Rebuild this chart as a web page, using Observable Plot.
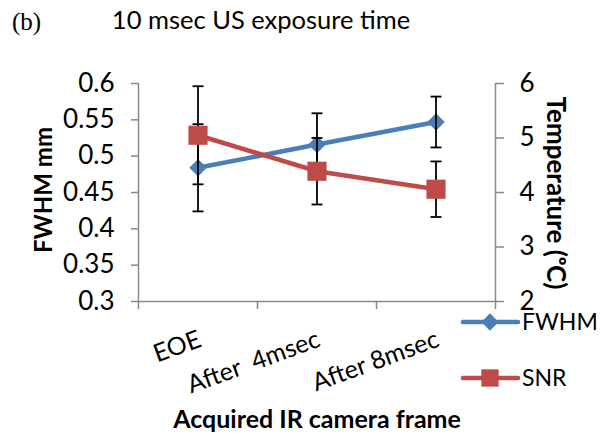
<!DOCTYPE html>
<html><head><meta charset="utf-8">
<script src="https://cdn.jsdelivr.net/npm/d3@7"></script>
<script src="https://cdn.jsdelivr.net/npm/@observablehq/plot@0.6"></script>
<style>
body{margin:0;background:#fff;}
#chart{position:relative;width:600px;height:438px;}
</style></head><body><div id="chart"></div>
<script>
const categories = ["EOE", "After\u00a0 4msec", "After 8msec"];
const fwhm = [0.484, 0.516, 0.547];
const fwhmErr = [0.060, 0.043, 0.035];
const snr = [5.05, 4.39, 4.06];
const snrErr = [0.90, 0.61, 0.51];
const fwhmTicks = [0.3, 0.35, 0.4, 0.45, 0.5, 0.55, 0.6];
const tempTicks = [2, 3, 4, 5, 6];
const bandTicks = [0, 1, 2, 3];
const seriesNames = ["FWHM", "SNR"];
const titleText = "10 msec US exposure time";
const panelText = "(b)";
const yTitle = "FWHM mm";
const y2Title = "Temperature (\u1D52C)";
const xTitle = "Acquired IR camera frame";

const BLUE = "#4a7ebb", RED = "#be4b48", AXIS = "#898989";
const FONT = "Lato, 'Open Sans', sans-serif";

const tempToY = t => 0.3 + (t - 2) / 4 * 0.3;
const yToTemp = y => 2 + (y - 0.3) / 0.3 * 4;

const rows = categories.map((c, i) => ({
  c, x: i + 0.5,
  f: fwhm[i], flo: fwhm[i] - fwhmErr[i], fhi: fwhm[i] + fwhmErr[i],
  s: tempToY(snr[i]), slo: tempToY(snr[i] - snrErr[i]), shi: tempToY(snr[i] + snrErr[i])
}));

const capSymbol = {draw(ctx, size) { const r = Math.sqrt(size / Math.PI); ctx.moveTo(-r, 0); ctx.lineTo(r, 0); }};

const plot = Plot.plot({
  width: 600, height: 438,
  marginLeft: 138, marginRight: 105, marginTop: 83, marginBottom: 137,
  style: {fontFamily: FONT, background: "white"},
  x: {type: "linear", domain: [0, 3]},
  y: {type: "linear", domain: [0.3, 0.6]},
  marks: [
    Plot.axisY({anchor: "left", ticks: fwhmTicks, tickSize: 7, tickPadding: 17, fontSize: 26,
      tickFormat: d => String(+d.toFixed(2)), label: null, stroke: AXIS, strokeWidth: 1.5, fill: "black"}),
    Plot.axisY({anchor: "right", ticks: tempTicks.map(tempToY), tickSize: 8, tickPadding: 16, fontSize: 26,
      tickFormat: d => String(Math.round(yToTemp(d))), label: null, stroke: AXIS, strokeWidth: 1.5, fill: "black"}),
    Plot.axisX({ticks: bandTicks, tickSize: 8, tickFormat: () => "", label: null, stroke: AXIS, strokeWidth: 1.5}),
    Plot.ruleX([0, 3], {stroke: AXIS, strokeWidth: 1.5}),
    Plot.ruleY([0.3], {stroke: AXIS, strokeWidth: 1.5}),
    Plot.text(rows, {x: "x", text: "c", frameAnchor: "bottom", rotate: -20, textAnchor: "end",
      lineAnchor: "middle", dx: 2, dy: 37, fontSize: 25, fill: "black"}),
    // FWHM series
    Plot.line(rows, {x: "x", y: "f", stroke: BLUE, strokeWidth: 4.5}),
    Plot.dot(rows, {x: "x", y: "f", symbol: "diamond2", r: 7.9, fill: BLUE, stroke: "none"}),
    // error bars
    Plot.ruleX(rows, {x: "x", y1: "flo", y2: "fhi", stroke: "black", strokeWidth: 1.8}),
    Plot.dot(rows.flatMap(d => [{x: d.x, y: d.flo}, {x: d.x, y: d.fhi}]), {x: "x", y: "y", symbol: capSymbol, r: 5.5, fill: "none", stroke: "black", strokeWidth: 1.8}),
    Plot.ruleX(rows, {x: "x", y1: "slo", y2: "shi", stroke: "black", strokeWidth: 1.8}),
    Plot.dot(rows.flatMap(d => [{x: d.x, y: d.slo}, {x: d.x, y: d.shi}]), {x: "x", y: "y", symbol: capSymbol, r: 5.5, fill: "none", stroke: "black", strokeWidth: 1.8}),
    // SNR series
    Plot.line(rows, {x: "x", y: "s", stroke: RED, strokeWidth: 4.5}),
    Plot.dot(rows, {x: "x", y: "s", symbol: "square", r: 10.8, fill: RED, stroke: "none"})
  ]
});

const svg = d3.select(plot);
// titles
svg.append("text").attr("x", 12).attr("y", 30).attr("text-anchor", "start").attr("font-family", "'Liberation Serif', serif").attr("font-size", 25).attr("fill", "black").text(panelText);
svg.append("text").attr("x", 261).attr("y", 29).attr("text-anchor", "middle").attr("font-size", 25.5).attr("fill", "black").text(titleText);
svg.append("text").attr("transform", "translate(52,190) rotate(-90)").attr("text-anchor", "middle").attr("font-size", 24).attr("font-weight", "bold").attr("fill", "black").text(yTitle);
svg.append("text").attr("transform", "translate(547,193) rotate(90)").attr("text-anchor", "middle").attr("font-size", 26).attr("font-weight", "bold").attr("fill", "black").text(y2Title);
svg.append("text").attr("x", 317).attr("y", 428).attr("text-anchor", "middle").attr("font-size", 25).attr("font-weight", "bold").attr("fill", "black").text(xTitle);

// legend
const legend = [
  {name: seriesNames[0], color: BLUE, y: 322, sym: d3.symbolDiamond2, size: 190},
  {name: seriesNames[1], color: RED, y: 378, sym: d3.symbolSquare, size: 300}
];
legend.forEach(l => {
  const g = svg.append("g");
  g.append("line").attr("x1", 463).attr("x2", 518).attr("y1", l.y).attr("y2", l.y).attr("stroke", l.color).attr("stroke-width", 4.5).attr("stroke-linecap", "round");
  g.append("path").attr("d", d3.symbol(l.sym, l.size)()).attr("transform", `translate(490,${l.y})`).attr("fill", l.color);
  g.append("text").attr("x", 522).attr("y", l.y + 8).attr("text-anchor", "start").attr("font-size", 23).attr("fill", "black").text(l.name);
});

document.getElementById("chart").appendChild(plot);
</script>
</body></html>
